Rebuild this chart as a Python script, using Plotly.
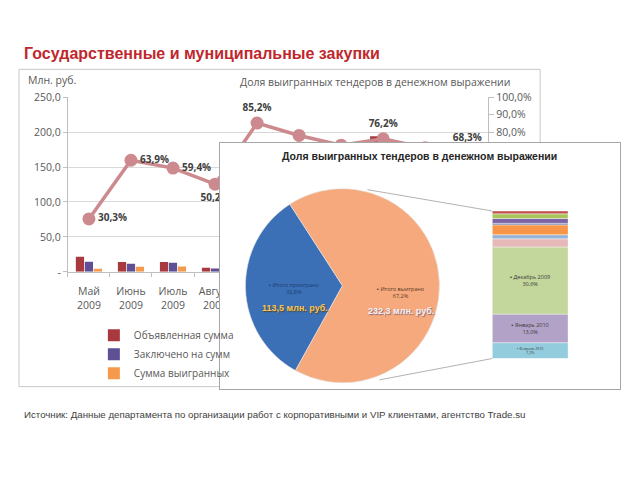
import plotly.graph_objects as go

# The page body has an 8px margin, so the figure is drawn 8px in from the window edge.
OFF = 8
FW, FH = 632, 472

def fx(px):
    return (px - OFF) / FW

def fy(py):
    return 1 - (py - OFF) / FH

# ---------------- data ----------------
months = ["Май<br>2009", "Июнь<br>2009", "Июль<br>2009", "Август<br>2009", "Сентябрь<br>2009",
          "Октябрь<br>2009", "Ноябрь<br>2009", "Декабрь<br>2009", "Январь<br>2010", "Февраль<br>2010"]
months_plain = ["Май 2009", "Июнь 2009", "Июль 2009", "Август 2009", "Сентябрь 2009",
                "Октябрь 2009", "Ноябрь 2009", "Декабрь 2009", "Январь 2010", "Февраль 2010"]
announced = [21.5, 14.0, 14.0, 6.0, 40.0, 25.0, 55.0, 194.0, 110.0, 70.0]
concluded = [14.5, 11.5, 13.0, 4.8, 18.2, 8.3, 17.7, 138.8, 63.4, 36.5]
won = [4.4, 7.3, 7.7, 2.4, 15.5, 6.5, 12.8, 105.8, 45.0, 24.9]
won_share = [30.3, 63.9, 59.4, 50.2, 85.2, 78.1, 72.5, 76.2, 71.0, 68.3]
label_pos = ["middle right", "middle right", "middle right", "bottom center", "top center",
             "bottom center", "bottom center", "top center", "bottom center", "top center"]
label_shown = [True, True, True, True, True, False, False, True, False, True]

series_names = ["Объявленная сумма", "Заключено на сумм", "Сумма выигранных"]
series_colors = ["#a83a3f", "#5f5096", "#f59a4c"]

y_ticks = [0, 50, 100, 150, 200, 250]
y_ticklabels = ["-", "50,0", "100,0", "150,0", "200,0", "250,0"]

pie_labels = ["Итого проиграно", "Итого выиграно"]
pie_values = [113.5, 232.3]
pie_colors = ["#3b6fb6", "#f5a97c"]

stack_colors_by_month = ["#c0504d", "#a9c55a", "#7e64a6", "#4f6a9a", "#f79646",
                         "#95b3d7", "#e6b9b8", "#c3d69b", "#b3a2c7", "#93cddd"]

FONT = "Open Sans, Liberation Sans, sans-serif"
ARIAL = "Liberation Sans, Arial, sans-serif"
GREY = "#595959"

fig = go.Figure()

# ---------------- background combo chart (subplot xy) ----------------
for name, vals, col in zip(series_names, [announced, concluded, won], series_colors):
    fig.add_trace(go.Bar(x=months, y=vals, name=name, marker=dict(color=col, line=dict(width=0)),
                         xaxis="x", yaxis="y", hoverinfo="skip"))

# share line on its own (regular) subplot x2y2 sharing the same footprint
line_col = "#cd8a8e"
line_text = [("<b>" + f"{v:.1f}".replace(".", ",") + "%</b>") if s else ""
             for v, s in zip(won_share, label_shown)]
fig.add_trace(go.Scatter(
    x=months, y=won_share, xaxis="x2", yaxis="y2", mode="lines+markers+text",
    text=line_text, textposition=label_pos,
    textfont=dict(size=10, color="#404040", family=FONT),
    line=dict(color=line_col, width=3.5), marker=dict(size=13, color=line_col),
    showlegend=False, hoverinfo="skip"))

# ---------------- overlay panel: white cover on subplot x3y3 ----------------
fig.add_trace(go.Scatter(x=[0, 1, 1, 0, 0], y=[0, 0, 1, 1, 0], xaxis="x3", yaxis="y3",
                         mode="lines", fill="toself", fillcolor="white",
                         line=dict(width=0, color="white"), showlegend=False, hoverinfo="skip"))

# stacked breakdown bar (bottom -> top: latest month first) on subplot x4y4
stack_vals = won[::-1]
stack_names = months_plain[::-1]
stack_cols = stack_colors_by_month[::-1]
bases = [sum(stack_vals[:i]) for i in range(len(stack_vals))]
total_all = sum(pie_values)
stack_text = []
for v, n in zip(stack_vals, stack_names):
    if v / total_all >= 0.05:
        stack_text.append(("▪ " + n + "<br>" + f"{v / total_all * 100:.1f}%").replace(".", ","))
    else:
        stack_text.append("")

fig.add_trace(go.Bar(
    x=["s"] * len(stack_vals), y=stack_vals, base=bases, width=1,
    marker=dict(color=stack_cols, line=dict(color="rgba(255,255,255,0.7)", width=0.6)),
    text=stack_text, textposition="inside", insidetextanchor="middle", textangle=0,
    textfont=dict(size=5.5, color="#3a3a3a", family=FONT),
    xaxis="x4", yaxis="y4", showlegend=False, hoverinfo="skip"))

fig.add_trace(go.Pie(
    labels=pie_labels, values=pie_values, sort=False, direction="clockwise", rotation=209,
    marker=dict(colors=pie_colors, line=dict(color="#e8e8e8", width=0.6)),
    textinfo="none", showlegend=False, hoverinfo="skip",
    domain=dict(x=[fx(243), fx(443)], y=[fy(387), fy(187)])))

# ---------------- layout ----------------
axis_line = "#bfbfbf"
x_dom = [fx(68), fx(489)]
y_dom = [fy(272.7), fy(92.7)]
hidden = dict(showgrid=False, zeroline=False, showticklabels=False, ticks="", showline=False,
              fixedrange=True)

fig.update_layout(
    width=FW, height=FH, autosize=False,
    margin=dict(l=0, r=0, t=0, b=0),
    paper_bgcolor="white", plot_bgcolor="rgba(0,0,0,0)",
    separators=", ",
    barmode="group", bargap=0.36, bargroupgap=0.08,
    font=dict(family=FONT, size=10.5, color=GREY),
    xaxis=dict(domain=x_dom, anchor="y", type="category", tickangle=0, ticklabelstandoff=10,
               showline=True, linecolor=axis_line, ticks="outside", tickson="boundaries",
               ticklen=4, tickcolor=axis_line, showgrid=False,
               tickfont=dict(size=10.5, color=GREY)),
    yaxis=dict(domain=y_dom, anchor="x", range=[0, 250],
               tickvals=y_ticks, ticktext=y_ticklabels,
               showline=True, linecolor=axis_line, ticks="outside", ticklen=4, tickcolor=axis_line,
               showgrid=True, gridcolor="#d9d9d9", zeroline=False,
               tickfont=dict(size=10.5, color=GREY)),
    xaxis2=dict(domain=x_dom, anchor="y2", type="category", range=[-0.5, len(months) - 0.5], **hidden),
    yaxis2=dict(domain=y_dom, anchor="x2", side="right", range=[0, 100], dtick=10,
                tickformat=".1f", ticksuffix="%", showgrid=False, zeroline=False,
                showline=True, linecolor=axis_line, ticks="outside", ticklen=5, tickcolor=axis_line,
                tickfont=dict(size=10.5, color=GREY)),
    xaxis3=dict(domain=[fx(220), fx(621)], anchor="y3", range=[0, 1], showgrid=False,
                zeroline=False, showticklabels=False, ticks="",
                showline=True, mirror=True, linecolor="#a6a6a6", linewidth=1, fixedrange=True),
    yaxis3=dict(domain=[fy(393), fy(140)], anchor="x3", range=[0, 1], showgrid=False,
                zeroline=False, showticklabels=False, ticks="",
                showline=True, mirror=True, linecolor="#a6a6a6", linewidth=1, fixedrange=True),
    xaxis4=dict(domain=[fx(493), fx(569)], anchor="y4", type="category", range=[-0.5, 0.5], **hidden),
    yaxis4=dict(domain=[fy(362), fy(210)], anchor="x4", range=[0, sum(stack_vals)], **hidden),
    legend=dict(x=fx(94), y=fy(323), xanchor="left", yanchor="top", orientation="v",
                bgcolor="rgba(0,0,0,0)", font=dict(size=10, color=GREY, family=FONT),
                itemwidth=30, tracegroupgap=0),
)

# background chart frame and connector lines
fig.add_shape(type="rect", xref="paper", yref="paper", x0=fx(19), x1=fx(541), y0=fy(391), y1=fy(64),
              line=dict(color="#c8c8c8", width=1), fillcolor="rgba(0,0,0,0)", layer="below")
fig.add_shape(type="line", xref="paper", yref="paper", x0=fx(368), y0=fy(188), x1=fx(493), y1=fy(210),
              line=dict(color="#9e9e9e", width=0.8), layer="above")
fig.add_shape(type="line", xref="paper", yref="paper", x0=fx(380), y0=fy(384), x1=fx(493), y1=fy(362),
              line=dict(color="#9e9e9e", width=0.8), layer="above")

ann = []
ann.append(dict(text="Государственные и муниципальные закупки", x=fx(22), y=fy(48),
                xanchor="left", yanchor="middle",
                font=dict(family=ARIAL, size=16, color="#c0272d", weight="bold")))
ann.append(dict(text="Млн. руб.", x=fx(26), y=fy(75), xanchor="left", yanchor="middle",
                font=dict(size=10.5, color=GREY, family=FONT)))
ann.append(dict(text="Доля выигранных тендеров в денежном выражении", x=fx(376), y=fy(77),
                xanchor="center", yanchor="middle", font=dict(size=10.5, color=GREY, family=FONT)))
ann.append(dict(text="<b>Доля выигранных тендеров в денежном выражении</b>", x=fx(420), y=fy(153),
                xanchor="center", yanchor="middle",
                font=dict(size=10.5, color="#262626", family=ARIAL)))
ann.append(dict(text="▪ Итого проиграно<br>32,8%", x=fx(294), y=fy(290), xanchor="center", yanchor="middle",
                font=dict(size=5.5, color="#1c3e70", family=FONT)))
ann.append(dict(text="<b>113,5 млн. руб.</b>", x=fx(295), y=fy(310), xanchor="center", yanchor="middle",
                font=dict(size=9, color="#f6c462", family=ARIAL, shadow="1px 1px 1px #5a4a20")))
ann.append(dict(text="▪ Итого выиграно<br>67,2%", x=fx(402), y=fy(294), xanchor="center", yanchor="middle",
                font=dict(size=5.5, color="#5a3a28", family=FONT)))
ann.append(dict(text="<b>232,3 млн. руб.</b>", x=fx(402), y=fy(313), xanchor="center", yanchor="middle",
                font=dict(size=9, color="#f4f0f4", family=ARIAL, shadow="1px 1px 1px #8a6a70")))
ann.append(dict(text="Источник: Данные департамента по организации работ с корпоративными и VIP клиентами, агентство Trade.su",
                x=fx(22), y=fy(420), xanchor="left", yanchor="middle",
                font=dict(size=9.7, color="#404040", family=ARIAL)))
for a in ann:
    a.update(xref="paper", yref="paper", showarrow=False)
fig.update_layout(annotations=ann)

fig.write_html("out.html")
